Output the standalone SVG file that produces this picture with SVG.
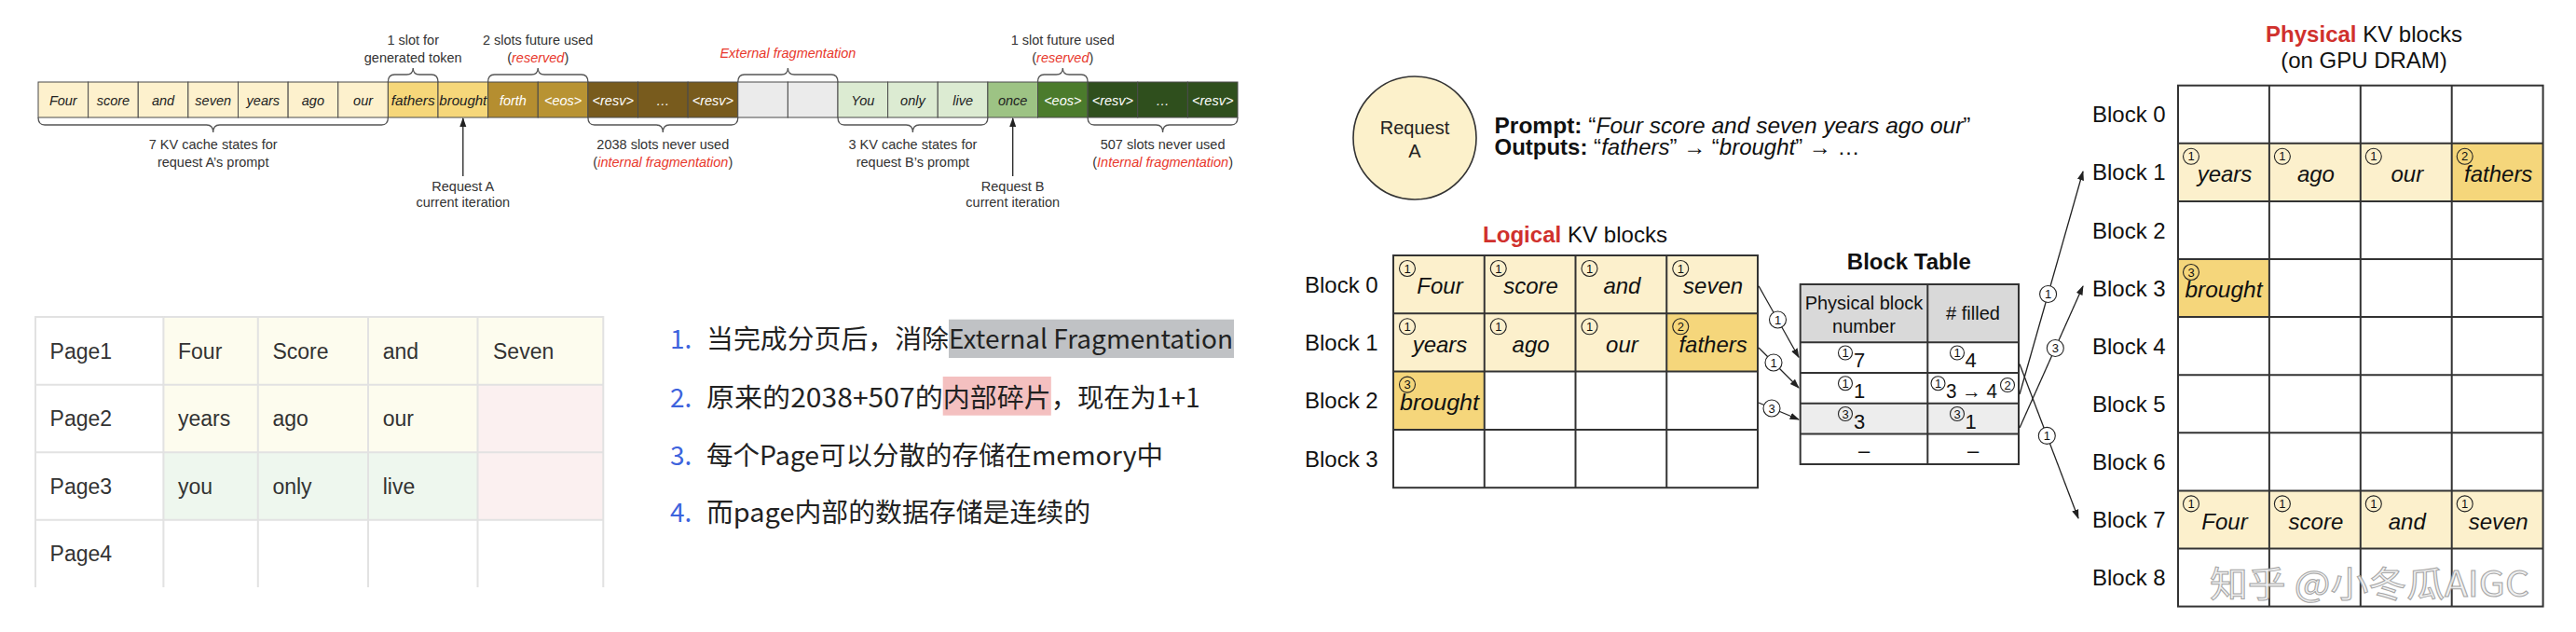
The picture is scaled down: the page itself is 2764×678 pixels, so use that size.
<svg xmlns="http://www.w3.org/2000/svg" width="2764" height="678" viewBox="0 0 2764 678">
<defs>
<style>
.st{font-family:"Liberation Sans",Arial,sans-serif;font-size:14.5px;font-style:italic;text-anchor:middle;fill:#222}
.wt{fill:#fff}
.cell{stroke:#4a4a4a;stroke-width:1}
.ann{font-family:"Liberation Sans",Arial,sans-serif;font-size:14.5px;text-anchor:middle;fill:#333}
.red{fill:#e8382c;font-style:italic}
.brace{fill:none;stroke:#555;stroke-width:1.3}
.pl{stroke:#e2e2e2;stroke-width:2}
.ptt{font-family:"Liberation Sans",Arial,sans-serif;font-size:23px;fill:#333}
.li{font-family:"Noto Sans CJK SC",sans-serif;font-size:28px;fill:#222}
.num{font-family:"Noto Sans CJK SC",sans-serif;font-size:28px;fill:#3d63dd}
.gl{stroke:#333;stroke-width:2;fill:none}
.w{font-family:"Liberation Sans",Arial,sans-serif;font-size:24px;font-style:italic;text-anchor:middle;fill:#111}
.lbl{font-family:"Liberation Sans",Arial,sans-serif;font-size:24px;fill:#111}
.cc{fill:none;stroke:#222;stroke-width:1.1}
.cw{fill:#fff;stroke:#222;stroke-width:1.1}
.cd{font-family:"Liberation Sans",Arial,sans-serif;font-size:13px;text-anchor:middle;fill:#111}
.conn{stroke:#222;stroke-width:1.3;fill:none}
.td{font-family:"Liberation Sans",Arial,sans-serif;font-size:22px;fill:#111}
.cream{fill:#fcf0cc}
.gold{fill:#f5d67b}
</style>
<marker id="ah" viewBox="0 0 10 10" refX="9" refY="5" markerWidth="8" markerHeight="8" orient="auto"><path d="M0,1.5 L10,5 L0,8.5 z" fill="#222"/></marker>
</defs>
<rect x="0" y="0" width="2764" height="678" fill="#fff"/>

<!-- ===== Top strip ===== -->
<g id="strip">
<rect class="cell" x="41" y="88" width="53.625" height="38" fill="#fdf1cd"/>
<rect class="cell" x="94.625" y="88" width="53.625" height="38" fill="#fdf1cd"/>
<rect class="cell" x="148.25" y="88" width="53.625" height="38" fill="#fdf1cd"/>
<rect class="cell" x="201.875" y="88" width="53.625" height="38" fill="#fdf1cd"/>
<rect class="cell" x="255.5" y="88" width="53.625" height="38" fill="#fdf1cd"/>
<rect class="cell" x="309.125" y="88" width="53.625" height="38" fill="#fdf1cd"/>
<rect class="cell" x="362.75" y="88" width="53.625" height="38" fill="#fdf1cd"/>
<rect class="cell" x="416.375" y="88" width="53.625" height="38" fill="#f6d77a"/>
<rect class="cell" x="470" y="88" width="53.625" height="38" fill="#f6d77a"/>
<rect class="cell" x="523.625" y="88" width="53.625" height="38" fill="#b58e30"/>
<rect class="cell" x="577.25" y="88" width="53.625" height="38" fill="#b89333"/>
<rect class="cell" x="630.875" y="88" width="53.625" height="38" fill="#785b1d"/>
<rect class="cell" x="684.5" y="88" width="53.625" height="38" fill="#785b1d"/>
<rect class="cell" x="738.125" y="88" width="53.625" height="38" fill="#785b1d"/>
<rect class="cell" x="791.75" y="88" width="53.625" height="38" fill="#ebebeb"/>
<rect class="cell" x="845.375" y="88" width="53.625" height="38" fill="#ebebeb"/>
<rect class="cell" x="899" y="88" width="53.625" height="38" fill="#dcebd2"/>
<rect class="cell" x="952.625" y="88" width="53.625" height="38" fill="#dcebd2"/>
<rect class="cell" x="1006.25" y="88" width="53.625" height="38" fill="#dcebd2"/>
<rect class="cell" x="1059.875" y="88" width="53.625" height="38" fill="#9dc384"/>
<rect class="cell" x="1113.5" y="88" width="53.625" height="38" fill="#4b7b2c"/>
<rect class="cell" x="1167.125" y="88" width="53.625" height="38" fill="#2f4f1d"/>
<rect class="cell" x="1220.75" y="88" width="53.625" height="38" fill="#2f4f1d"/>
<rect class="cell" x="1274.375" y="88" width="53.625" height="38" fill="#2f4f1d"/>
<text class="st" x="67.8" y="112.5">Four</text>
<text class="st" x="121.4" y="112.5">score</text>
<text class="st" x="175.1" y="112.5">and</text>
<text class="st" x="228.7" y="112.5">seven</text>
<text class="st" x="282.3" y="112.5">years</text>
<text class="st" x="335.9" y="112.5">ago</text>
<text class="st" x="389.6" y="112.5">our</text>
<text class="st" x="443.2" y="112.5" textLength="47" lengthAdjust="spacingAndGlyphs">fathers</text>
<text class="st" x="496.8" y="112.5" textLength="51" lengthAdjust="spacingAndGlyphs">brought</text>
<text class="st wt" x="550.4" y="112.5">forth</text>
<text class="st wt" x="604.1" y="112.5">&lt;eos&gt;</text>
<text class="st wt" x="657.7" y="112.5">&lt;resv&gt;</text>
<text class="st wt" x="711.3" y="112.5">…</text>
<text class="st wt" x="764.9" y="112.5">&lt;resv&gt;</text>
<text class="st" x="925.8" y="112.5">You</text>
<text class="st" x="979.4" y="112.5">only</text>
<text class="st" x="1033.1" y="112.5">live</text>
<text class="st" x="1086.7" y="112.5">once</text>
<text class="st wt" x="1140.3" y="112.5">&lt;eos&gt;</text>
<text class="st wt" x="1193.9" y="112.5">&lt;resv&gt;</text>
<text class="st wt" x="1247.6" y="112.5">…</text>
<text class="st wt" x="1301.2" y="112.5">&lt;resv&gt;</text>
</g>

<g id="strip-braces">
<path class="brace" d="M416.4,88 Q416.4,80 423.4,80 L436.2,80 Q443.2,80 443.2,73 Q443.2,80 450.2,80 L463,80 Q470,80 470,88"/>
<path class="brace" d="M523.6,88 Q523.6,80 530.6,80 L570.2,80 Q577.2,80 577.2,73 Q577.2,80 584.2,80 L623.9,80 Q630.9,80 630.9,88"/>
<path class="brace" d="M791.8,88 Q791.8,80 798.8,80 L838.4,80 Q845.4,80 845.4,73 Q845.4,80 852.4,80 L892,80 Q899,80 899,88"/>
<path class="brace" d="M1113.5,88 Q1113.5,80 1120.5,80 L1133.3,80 Q1140.3,80 1140.3,73 Q1140.3,80 1147.3,80 L1160.1,80 Q1167.1,80 1167.1,88"/>
<path class="brace" d="M41,126 Q41,134 48,134 L221.7,134 Q228.7,134 228.7,142 Q228.7,134 235.7,134 L409.4,134 Q416.4,134 416.4,126"/>
<path class="brace" d="M630.9,126 Q630.9,134 637.9,134 L704.3,134 Q711.3,134 711.3,142 Q711.3,134 718.3,134 L784.8,134 Q791.8,134 791.8,126"/>
<path class="brace" d="M899,126 Q899,134 906,134 L972.4,134 Q979.4,134 979.4,142 Q979.4,134 986.4,134 L1052.9,134 Q1059.9,134 1059.9,126"/>
<path class="brace" d="M1167.1,126 Q1167.1,134 1174.1,134 L1240.6,134 Q1247.6,134 1247.6,142 Q1247.6,134 1254.6,134 L1321,134 Q1328,134 1328,126"/>
</g>

<g id="strip-labels">
<text class="ann" x="443.2" y="47.5">1 slot for</text>
<text class="ann" x="443.2" y="66.5">generated token</text>
<text class="ann" x="577.2" y="47.5">2 slots future used</text>
<text class="ann" x="577.2" y="66.5">(<tspan class="red">reserved</tspan>)</text>
<text class="ann red" x="845.4" y="62">External fragmentation</text>
<text class="ann" x="1140.3" y="47.5">1 slot future used</text>
<text class="ann" x="1140.3" y="66.5">(<tspan class="red">reserved</tspan>)</text>
<text class="ann" x="228.7" y="160">7 KV cache states for</text>
<text class="ann" x="228.7" y="178.5">request A’s prompt</text>
<text class="ann" x="711.3" y="160">2038 slots never used</text>
<text class="ann" x="711.3" y="178.5">(<tspan class="red">internal fragmentation</tspan>)</text>
<text class="ann" x="979.4" y="160">3 KV cache states for</text>
<text class="ann" x="979.4" y="178.5">request B’s prompt</text>
<text class="ann" x="1247.6" y="160">507 slots never used</text>
<text class="ann" x="1247.6" y="178.5">(<tspan class="red">Internal fragmentation</tspan>)</text>
<text class="ann" x="496.8" y="205">Request A</text>
<text class="ann" x="496.8" y="222">current iteration</text>
<text class="ann" x="1086.7" y="205">Request B</text>
<text class="ann" x="1086.7" y="222">current iteration</text>
</g>

<!-- ===== Page table ===== -->
<g id="page-table">
<rect x="175.4" y="340" width="472" height="72.7" fill="#fdfcee"/>
<rect x="175.4" y="412.7" width="337.1" height="72.6" fill="#fdfcee"/>
<rect x="512.5" y="412.7" width="134.8" height="145" fill="#fbf0f0"/>
<rect x="175.4" y="485.3" width="337.1" height="72.4" fill="#eef7ee"/>
<line class="pl" x1="38" y1="340" x2="647.3" y2="340"/>
<line class="pl" x1="38" y1="412.7" x2="647.3" y2="412.7"/>
<line class="pl" x1="38" y1="485.3" x2="647.3" y2="485.3"/>
<line class="pl" x1="38" y1="557.7" x2="647.3" y2="557.7"/>
<line class="pl" x1="38" y1="339" x2="38" y2="630"/>
<line class="pl" x1="175.4" y1="339" x2="175.4" y2="630"/>
<line class="pl" x1="276.8" y1="339" x2="276.8" y2="630"/>
<line class="pl" x1="395" y1="339" x2="395" y2="630"/>
<line class="pl" x1="512.5" y1="339" x2="512.5" y2="630"/>
<line class="pl" x1="647.3" y1="339" x2="647.3" y2="630"/>
<text class="ptt" x="53.6" y="384.5">Page1</text>
<text class="ptt" x="191" y="384.5">Four</text>
<text class="ptt" x="292.4" y="384.5">Score</text>
<text class="ptt" x="410.7" y="384.5">and</text>
<text class="ptt" x="529" y="384.5">Seven</text>
<text class="ptt" x="53.6" y="457">Page2</text>
<text class="ptt" x="191" y="457">years</text>
<text class="ptt" x="292.4" y="457">ago</text>
<text class="ptt" x="410.7" y="457">our</text>
<text class="ptt" x="53.6" y="529.5">Page3</text>
<text class="ptt" x="191" y="529.5">you</text>
<text class="ptt" x="292.4" y="529.5">only</text>
<text class="ptt" x="410.7" y="529.5">live</text>
<text class="ptt" x="53.6" y="602">Page4</text>
</g>

<!-- ===== List ===== -->
<g id="notes">
<rect x="1018" y="342.7" width="306" height="41.3" fill="#c0c2c5"/>
<rect x="1011.7" y="404" width="116.1" height="41.7" fill="#f4c0c0"/>
<text class="num" x="719" y="373.5">1.</text>
<text class="li" x="758" y="373.5" textLength="260" lengthAdjust="spacingAndGlyphs">当完成分页后，消除</text>
<text class="li" x="1018" y="373.5" textLength="305" lengthAdjust="spacingAndGlyphs">External Fragmentation</text>
<text class="num" x="719" y="437">2.</text>
<text class="li" x="758" y="437" textLength="253.7" lengthAdjust="spacingAndGlyphs">原来的2038+507的</text>
<text class="li" x="1011.7" y="437" textLength="116" lengthAdjust="spacingAndGlyphs">内部碎片</text>
<text class="li" x="1127.8" y="437" textLength="160" lengthAdjust="spacingAndGlyphs">，现在为1+1</text>
<text class="num" x="719" y="498.5">3.</text>
<text class="li" x="758" y="498.5" textLength="490" lengthAdjust="spacingAndGlyphs">每个Page可以分散的存储在memory中</text>
<text class="num" x="719" y="560">4.</text>
<text class="li" x="758" y="560" textLength="412" lengthAdjust="spacingAndGlyphs">而page内部的数据存储是连续的</text>
</g>

<!-- ===== Request A ===== -->
<g id="request-a">
<circle cx="1518" cy="148" r="66" fill="#fcf1cb" stroke="#333" stroke-width="1.6"/>
<text x="1518" y="143.5" font-family="Liberation Sans, Arial, sans-serif" font-size="20" text-anchor="middle" fill="#222">Request</text>
<text x="1518" y="168.5" font-family="Liberation Sans, Arial, sans-serif" font-size="20" text-anchor="middle" fill="#222">A</text>
</g>
<g id="prompt">
<text x="1603.5" y="142.5" font-family="Liberation Sans, Arial, sans-serif" font-size="24" fill="#111" textLength="511" lengthAdjust="spacingAndGlyphs"><tspan font-weight="bold">Prompt:</tspan> “<tspan font-style="italic">Four score and seven years ago our</tspan>”</text>
<text x="1603.5" y="165.5" font-family="Liberation Sans, Arial, sans-serif" font-size="24" fill="#111" textLength="392" lengthAdjust="spacingAndGlyphs"><tspan font-weight="bold">Outputs:</tspan> “<tspan font-style="italic">fathers</tspan>” → “<tspan font-style="italic">brought</tspan>” → …</text>
</g>

<!-- ===== Logical KV blocks ===== -->
<g id="logical-blocks">
<text x="1591" y="260" font-family="Liberation Sans, Arial, sans-serif" font-size="24" fill="#111" textLength="198" lengthAdjust="spacingAndGlyphs"><tspan font-weight="bold" fill="#d0312d">Logical</tspan> KV blocks</text>
<rect class="cream" x="1495" y="274" width="391" height="62.3"/>
<rect class="cream" x="1495" y="336.3" width="293.25" height="62.3"/>
<rect class="gold" x="1788.25" y="336.3" width="97.75" height="62.3"/>
<rect class="gold" x="1495" y="398.6" width="97.75" height="62.3"/>
<rect class="gl" x="1495" y="274" width="391" height="249.2"/>
<line class="gl" x1="1592.75" y1="274" x2="1592.75" y2="523.2"/>
<line class="gl" x1="1690.5" y1="274" x2="1690.5" y2="523.2"/>
<line class="gl" x1="1788.25" y1="274" x2="1788.25" y2="523.2"/>
<line class="gl" x1="1495" y1="336.3" x2="1886" y2="336.3"/>
<line class="gl" x1="1495" y1="398.6" x2="1886" y2="398.6"/>
<line class="gl" x1="1495" y1="460.9" x2="1886" y2="460.9"/>
<text class="lbl" x="1400" y="313.8">Block 0</text>
<text class="lbl" x="1400" y="376.1">Block 1</text>
<text class="lbl" x="1400" y="438.4">Block 2</text>
<text class="lbl" x="1400" y="500.7">Block 3</text>
<circle class="cc" cx="1510" cy="288" r="8.5"/><text class="cd" x="1510" y="292.5">1</text>
<circle class="cc" cx="1607.75" cy="288" r="8.5"/><text class="cd" x="1607.75" y="292.5">1</text>
<circle class="cc" cx="1705.5" cy="288" r="8.5"/><text class="cd" x="1705.5" y="292.5">1</text>
<circle class="cc" cx="1803.25" cy="288" r="8.5"/><text class="cd" x="1803.25" y="292.5">1</text>
<text class="w" x="1545" y="315">Four</text>
<text class="w" x="1642.6" y="315">score</text>
<text class="w" x="1740.4" y="315">and</text>
<text class="w" x="1838.1" y="315">seven</text>
<circle class="cc" cx="1510" cy="350.3" r="8.5"/><text class="cd" x="1510" y="354.8">1</text>
<circle class="cc" cx="1607.75" cy="350.3" r="8.5"/><text class="cd" x="1607.75" y="354.8">1</text>
<circle class="cc" cx="1705.5" cy="350.3" r="8.5"/><text class="cd" x="1705.5" y="354.8">1</text>
<circle class="cc" cx="1803.25" cy="350.3" r="8.5"/><text class="cd" x="1803.25" y="354.8">2</text>
<text class="w" x="1545" y="377.5">years</text>
<text class="w" x="1642.6" y="377.5">ago</text>
<text class="w" x="1740.4" y="377.5">our</text>
<text class="w" x="1838.1" y="377.5">fathers</text>
<circle class="cc" cx="1510" cy="412.6" r="8.5"/><text class="cd" x="1510" y="417.1">3</text>
<text class="w" x="1544.5" y="439.8" textLength="85" lengthAdjust="spacingAndGlyphs">brought</text>
</g>

<!-- ===== Block Table ===== -->
<g id="block-table">
<text x="2048.3" y="288.5" font-family="Liberation Sans, Arial, sans-serif" font-size="24" font-weight="bold" text-anchor="middle" fill="#111">Block Table</text>
<rect x="1931.7" y="305" width="234.3" height="62.3" fill="#d9d9d9"/>
<rect x="1931.7" y="432.7" width="234.3" height="32.7" fill="#ededed"/>
<rect class="gl" x="1931.7" y="305" width="234.3" height="193"/>
<line class="gl" x1="2068.3" y1="305" x2="2068.3" y2="498"/>
<line class="gl" x1="1931.7" y1="367.3" x2="2166" y2="367.3"/>
<line class="gl" x1="1931.7" y1="400" x2="2166" y2="400"/>
<line class="gl" x1="1931.7" y1="432.7" x2="2166" y2="432.7"/>
<line class="gl" x1="1931.7" y1="465.4" x2="2166" y2="465.4"/>
<text x="2000" y="332" font-family="Liberation Sans, Arial, sans-serif" font-size="20" text-anchor="middle" fill="#111">Physical block</text>
<text x="2000" y="356.5" font-family="Liberation Sans, Arial, sans-serif" font-size="20" text-anchor="middle" fill="#111">number</text>
<text x="2117" y="343" font-family="Liberation Sans, Arial, sans-serif" font-size="20" text-anchor="middle" fill="#111"># filled</text>
<circle class="cc" cx="1980" cy="378.5" r="7.5"/><text class="cd" x="1980" y="383">1</text>
<text class="td" x="1989" y="394">7</text>
<circle class="cc" cx="2100" cy="378.5" r="7.5"/><text class="cd" x="2100" y="383">1</text>
<text class="td" x="2108.5" y="394">4</text>
<circle class="cc" cx="1980" cy="411.2" r="7.5"/><text class="cd" x="1980" y="415.7">1</text>
<text class="td" x="1989" y="427">1</text>
<circle class="cc" cx="2079.5" cy="411.2" r="7.5"/><text class="cd" x="2079.5" y="415.7">1</text>
<text class="td" x="2088" y="427" textLength="55" lengthAdjust="spacingAndGlyphs">3 → 4</text>
<circle class="cc" cx="2154" cy="413" r="7.5"/><text class="cd" x="2154" y="417.5">2</text>
<circle class="cc" cx="1980" cy="444" r="7.5"/><text class="cd" x="1980" y="448.5">3</text>
<text class="td" x="1989" y="460">3</text>
<circle class="cc" cx="2100" cy="444" r="7.5"/><text class="cd" x="2100" y="448.5">3</text>
<text class="td" x="2108.5" y="460">1</text>
<text class="td" x="2000" y="491" text-anchor="middle">–</text>
<text class="td" x="2117" y="491" text-anchor="middle">–</text>
</g>

<!-- ===== Physical KV blocks ===== -->
<g id="physical-blocks">
<text x="2536.5" y="45" font-family="Liberation Sans, Arial, sans-serif" font-size="24" text-anchor="middle" fill="#111"><tspan font-weight="bold" fill="#d0312d">Physical</tspan> KV blocks</text>
<text x="2536.5" y="73" font-family="Liberation Sans, Arial, sans-serif" font-size="24" text-anchor="middle" fill="#111">(on GPU DRAM)</text>
<rect class="cream" x="2337" y="153.8" width="293.7" height="62.1"/>
<rect class="gold" x="2630.7" y="153.8" width="97.9" height="62.1"/>
<rect class="gold" x="2337" y="278" width="97.9" height="62.1"/>
<rect class="cream" x="2337" y="526.4" width="391.6" height="62.1"/>
<rect class="gl" x="2337" y="91.7" width="391.6" height="558.9"/>
<line class="gl" x1="2434.9" y1="91.7" x2="2434.9" y2="650.6"/>
<line class="gl" x1="2532.8" y1="91.7" x2="2532.8" y2="650.6"/>
<line class="gl" x1="2630.7" y1="91.7" x2="2630.7" y2="650.6"/>
<line class="gl" x1="2337" y1="153.8" x2="2728.6" y2="153.8"/>
<line class="gl" x1="2337" y1="215.9" x2="2728.6" y2="215.9"/>
<line class="gl" x1="2337" y1="278" x2="2728.6" y2="278"/>
<line class="gl" x1="2337" y1="340.1" x2="2728.6" y2="340.1"/>
<line class="gl" x1="2337" y1="402.2" x2="2728.6" y2="402.2"/>
<line class="gl" x1="2337" y1="464.3" x2="2728.6" y2="464.3"/>
<line class="gl" x1="2337" y1="526.4" x2="2728.6" y2="526.4"/>
<line class="gl" x1="2337" y1="588.5" x2="2728.6" y2="588.5"/>
<text class="lbl" x="2245" y="131.3">Block 0</text>
<text class="lbl" x="2245" y="193.4">Block 1</text>
<text class="lbl" x="2245" y="255.5">Block 2</text>
<text class="lbl" x="2245" y="317.6">Block 3</text>
<text class="lbl" x="2245" y="379.7">Block 4</text>
<text class="lbl" x="2245" y="441.8">Block 5</text>
<text class="lbl" x="2245" y="503.9">Block 6</text>
<text class="lbl" x="2245" y="566">Block 7</text>
<text class="lbl" x="2245" y="628.1">Block 8</text>
<circle class="cc" cx="2351" cy="167.8" r="8.5"/><text class="cd" x="2351" y="172.3">1</text>
<circle class="cc" cx="2448.9" cy="167.8" r="8.5"/><text class="cd" x="2448.9" y="172.3">1</text>
<circle class="cc" cx="2546.8" cy="167.8" r="8.5"/><text class="cd" x="2546.8" y="172.3">1</text>
<circle class="cc" cx="2644.7" cy="167.8" r="8.5"/><text class="cd" x="2644.7" y="172.3">2</text>
<text class="w" x="2387" y="195">years</text>
<text class="w" x="2484.9" y="195">ago</text>
<text class="w" x="2582.8" y="195">our</text>
<text class="w" x="2680.7" y="195">fathers</text>
<circle class="cc" cx="2351" cy="292" r="8.5"/><text class="cd" x="2351" y="296.5">3</text>
<text class="w" x="2386" y="319" textLength="83" lengthAdjust="spacingAndGlyphs">brought</text>
<circle class="cc" cx="2351" cy="540.4" r="8.5"/><text class="cd" x="2351" y="544.9">1</text>
<circle class="cc" cx="2448.9" cy="540.4" r="8.5"/><text class="cd" x="2448.9" y="544.9">1</text>
<circle class="cc" cx="2546.8" cy="540.4" r="8.5"/><text class="cd" x="2546.8" y="544.9">1</text>
<circle class="cc" cx="2644.7" cy="540.4" r="8.5"/><text class="cd" x="2644.7" y="544.9">1</text>
<text class="w" x="2387" y="567.5">Four</text>
<text class="w" x="2484.9" y="567.5">score</text>
<text class="w" x="2582.8" y="567.5">and</text>
<text class="w" x="2680.7" y="567.5">seven</text>
</g>

<!-- ===== Connectors ===== -->
<g id="connectors">
<line class="conn" x1="496.8" y1="189" x2="496.8" y2="127" marker-end="url(#ah)"/>
<line class="conn" x1="1086.7" y1="189" x2="1086.7" y2="127" marker-end="url(#ah)"/>
<line class="conn" x1="1887" y1="306.7" x2="1930" y2="383.3" marker-end="url(#ah)"/>
<line class="conn" x1="1887" y1="373" x2="1930" y2="416" marker-end="url(#ah)"/>
<line class="conn" x1="1887" y1="432" x2="1930" y2="450" marker-end="url(#ah)"/>
<line class="conn" x1="2167" y1="423" x2="2235" y2="184" marker-end="url(#ah)"/>
<line class="conn" x1="2167" y1="459" x2="2235" y2="307" marker-end="url(#ah)"/>
<line class="conn" x1="2167" y1="390.6" x2="2230" y2="556" marker-end="url(#ah)"/>
<circle class="cw" cx="1907.5" cy="343" r="9"/><text class="cd" x="1907.5" y="347.5">1</text>
<circle class="cw" cx="1903" cy="389" r="9"/><text class="cd" x="1903" y="393.5">1</text>
<circle class="cw" cx="1901" cy="438" r="9"/><text class="cd" x="1901" y="442.5">3</text>
<circle class="cw" cx="2197.6" cy="315.5" r="9"/><text class="cd" x="2197.6" y="320">1</text>
<circle class="cw" cx="2205.3" cy="373.5" r="9"/><text class="cd" x="2205.3" y="378">3</text>
<circle class="cw" cx="2196.3" cy="467.4" r="9"/><text class="cd" x="2196.3" y="471.9">1</text>
</g>

<!-- watermark -->
<text x="2371" y="640" font-family="Noto Sans CJK SC, sans-serif" font-size="38" fill="#efefef" stroke="#9b9b9b" stroke-width="1" opacity="0.9" textLength="343" lengthAdjust="spacingAndGlyphs">知乎 @小冬瓜AIGC</text>
</svg>
